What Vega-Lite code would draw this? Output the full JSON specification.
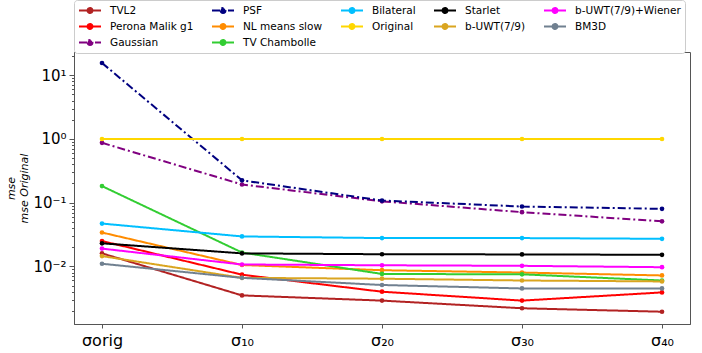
{
  "$schema": "https://vega.github.io/schema/vega-lite/v6.json",
  "width": 616,
  "height": 272,
  "autosize": {"type": "none"},
  "padding": {"left": 74, "top": 52, "right": 12, "bottom": 29},
  "background": "white",
  "config": {
    "view": {"stroke": "#555", "strokeWidth": 1},
    "font": "DejaVu Sans",
    "legend": {
      "orient": "none",
      "direction": "horizontal",
      "legendX": 0,
      "legendY": -52,
      "columns": 5,
      "gridAlign": "each",
      "symbolType": "M-1,0L3,0M0.55,0A0.45,0.45 0 1,0 1.45,0A0.45,0.45 0 1,0 0.55,0",
      "symbolSize": 121,
      "symbolStrokeWidth": 2,
      "labelFont": "DejaVu Sans",
      "labelFontSize": 10.5,
      "labelColor": "black",
      "labelOffset": 19,
      "columnPadding": 14,
      "rowPadding": 3,
      "padding": 4,
      "strokeColor": "#cccccc",
      "fillColor": "white",
      "cornerRadius": 3
    }
  },
  "data": {
    "values": [
      {"method": "TVL2", "sigma": "orig", "mse": 0.016},
      {"method": "TVL2", "sigma": "10", "mse": 0.0035},
      {"method": "TVL2", "sigma": "20", "mse": 0.0029},
      {"method": "TVL2", "sigma": "30", "mse": 0.0022},
      {"method": "TVL2", "sigma": "40", "mse": 0.00194},
      {"method": "Perona Malik g1", "sigma": "orig", "mse": 0.025},
      {"method": "Perona Malik g1", "sigma": "10", "mse": 0.0074},
      {"method": "Perona Malik g1", "sigma": "20", "mse": 0.004},
      {"method": "Perona Malik g1", "sigma": "30", "mse": 0.0029},
      {"method": "Perona Malik g1", "sigma": "40", "mse": 0.0039},
      {"method": "Gaussian", "sigma": "orig", "mse": 0.87},
      {"method": "Gaussian", "sigma": "10", "mse": 0.193},
      {"method": "Gaussian", "sigma": "20", "mse": 0.105},
      {"method": "Gaussian", "sigma": "30", "mse": 0.071},
      {"method": "Gaussian", "sigma": "40", "mse": 0.051},
      {"method": "PSF", "sigma": "orig", "mse": 15.6},
      {"method": "PSF", "sigma": "10", "mse": 0.224},
      {"method": "PSF", "sigma": "20", "mse": 0.108},
      {"method": "PSF", "sigma": "30", "mse": 0.087},
      {"method": "PSF", "sigma": "40", "mse": 0.08},
      {"method": "NL means slow", "sigma": "orig", "mse": 0.034},
      {"method": "NL means slow", "sigma": "10", "mse": 0.0105},
      {"method": "NL means slow", "sigma": "20", "mse": 0.0087},
      {"method": "NL means slow", "sigma": "30", "mse": 0.008},
      {"method": "NL means slow", "sigma": "40", "mse": 0.0072},
      {"method": "TV Chambolle", "sigma": "orig", "mse": 0.182},
      {"method": "TV Chambolle", "sigma": "10", "mse": 0.0165},
      {"method": "TV Chambolle", "sigma": "20", "mse": 0.0076},
      {"method": "TV Chambolle", "sigma": "30", "mse": 0.0075},
      {"method": "TV Chambolle", "sigma": "40", "mse": 0.006},
      {"method": "Bilateral", "sigma": "orig", "mse": 0.047},
      {"method": "Bilateral", "sigma": "10", "mse": 0.0295},
      {"method": "Bilateral", "sigma": "20", "mse": 0.0278},
      {"method": "Bilateral", "sigma": "30", "mse": 0.0278},
      {"method": "Bilateral", "sigma": "40", "mse": 0.0271},
      {"method": "Original", "sigma": "orig", "mse": 1.0},
      {"method": "Original", "sigma": "10", "mse": 1.0},
      {"method": "Original", "sigma": "20", "mse": 1.0},
      {"method": "Original", "sigma": "30", "mse": 1.0},
      {"method": "Original", "sigma": "40", "mse": 1.0},
      {"method": "Starlet", "sigma": "orig", "mse": 0.023},
      {"method": "Starlet", "sigma": "10", "mse": 0.016},
      {"method": "Starlet", "sigma": "20", "mse": 0.0155},
      {"method": "Starlet", "sigma": "30", "mse": 0.0154},
      {"method": "Starlet", "sigma": "40", "mse": 0.0152},
      {"method": "b-UWT(7/9)", "sigma": "orig", "mse": 0.0145},
      {"method": "b-UWT(7/9)", "sigma": "10", "mse": 0.0066},
      {"method": "b-UWT(7/9)", "sigma": "20", "mse": 0.0064},
      {"method": "b-UWT(7/9)", "sigma": "30", "mse": 0.006},
      {"method": "b-UWT(7/9)", "sigma": "40", "mse": 0.0058},
      {"method": "b-UWT(7/9)+Wiener", "sigma": "orig", "mse": 0.019},
      {"method": "b-UWT(7/9)+Wiener", "sigma": "10", "mse": 0.0107},
      {"method": "b-UWT(7/9)+Wiener", "sigma": "20", "mse": 0.0104},
      {"method": "b-UWT(7/9)+Wiener", "sigma": "30", "mse": 0.0102},
      {"method": "b-UWT(7/9)+Wiener", "sigma": "40", "mse": 0.0097},
      {"method": "BM3D", "sigma": "orig", "mse": 0.011},
      {"method": "BM3D", "sigma": "10", "mse": 0.0066},
      {"method": "BM3D", "sigma": "20", "mse": 0.0051},
      {"method": "BM3D", "sigma": "30", "mse": 0.0045},
      {"method": "BM3D", "sigma": "40", "mse": 0.0045}
    ]
  },
  "encoding": {
    "x": {
      "field": "sigma",
      "type": "ordinal",
      "sort": ["orig", "10", "20", "30", "40"],
      "scale": {"type": "point", "padding": 0.2},
      "axis": {
        "title": null,
        "labelAngle": 0,
        "labelFontSize": 16,
        "labelColor": "black",
        "labelPadding": 4,
        "tickSize": 4,
        "tickColor": "#555",
        "domainColor": "#555",
        "labelExpr": "datum.value == 'orig' ? 'σorig' : datum.value == '10' ? 'σ₁₀' : datum.value == '20' ? 'σ₂₀' : datum.value == '30' ? 'σ₃₀' : 'σ₄₀'"
      }
    },
    "y": {
      "field": "mse",
      "type": "quantitative",
      "scale": {"type": "log", "domain": [0.001245, 23.2], "nice": false},
      "axis": {
        "grid": false,
        "values": [0.002, 0.003, 0.004, 0.005, 0.006, 0.007, 0.008, 0.009, 0.01, 0.02, 0.03, 0.04, 0.05, 0.06, 0.07, 0.08, 0.09, 0.1, 0.2, 0.3, 0.4, 0.5, 0.6, 0.7, 0.8, 0.9, 1, 2, 3, 4, 5, 6, 7, 8, 9, 10, 20],
        "labelExpr": "datum.value == 10 ? '10¹' : datum.value == 1 ? '10⁰' : datum.value == 0.1 ? '10⁻¹' : datum.value == 0.01 ? '10⁻²' : ''",
        "labelOverlap": false,
        "labelFontSize": 15,
        "labelColor": "black",
        "labelPadding": 3,
        "tickSize": {"expr": "(datum.value == 10 || datum.value == 1 || datum.value == 0.1 || datum.value == 0.01) ? 5 : 2.5"},
        "tickColor": "#555",
        "domainColor": "#555",
        "title": ["mse", "mse Original"],
        "titleFontStyle": "italic",
        "titleFontWeight": "normal",
        "titleFontSize": 11,
        "titleColor": "black",
        "titlePadding": 3
      }
    },
    "color": {
      "field": "method",
      "type": "nominal",
      "scale": {
        "domain": ["TVL2", "PSF", "Bilateral", "Starlet", "b-UWT(7/9)+Wiener", "Perona Malik g1", "NL means slow", "Original", "b-UWT(7/9)", "BM3D", "Gaussian", "TV Chambolle"],
        "range": ["#B22222", "#000080", "#00BFFF", "#000000", "#FF00FF", "#FF0000", "#FF8C00", "#FFD700", "#DAA520", "#708090", "#800080", "#32CD32"]
      },
      "legend": {"title": null}
    }
  },
  "layer": [
    {
      "mark": {"type": "line", "strokeWidth": 2},
      "encoding": {
        "strokeDash": {
          "field": "method",
          "type": "nominal",
          "scale": {
            "domain": ["TVL2", "PSF", "Bilateral", "Starlet", "b-UWT(7/9)+Wiener", "Perona Malik g1", "NL means slow", "Original", "b-UWT(7/9)", "BM3D", "Gaussian", "TV Chambolle"],
            "range": [[1, 0], [8, 3, 2, 3], [1, 0], [1, 0], [1, 0], [1, 0], [1, 0], [1, 0], [1, 0], [1, 0], [8, 3, 2, 3], [1, 0]]
          },
          "legend": {"title": null}
        }
      }
    },
    {
      "mark": {"type": "point", "filled": true, "size": 22, "opacity": 1}
    }
  ]
}
